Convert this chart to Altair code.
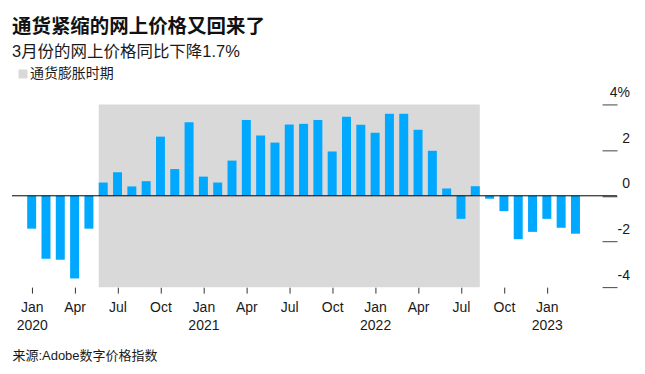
import json
import altair as alt
import pandas as pd

TITLE = "通货紧缩的网上价格又回来了"
SUBTITLE = "3月份的网上价格同比下降1.7%"
SOURCE = "来源:Adobe数字价格指数"
SHADE_LABEL = "通货膨胀时期"

MONTHS = [
    "2020-01", "2020-02", "2020-03", "2020-04", "2020-05", "2020-06",
    "2020-07", "2020-08", "2020-09", "2020-10", "2020-11", "2020-12",
    "2021-01", "2021-02", "2021-03", "2021-04", "2021-05", "2021-06",
    "2021-07", "2021-08", "2021-09", "2021-10", "2021-11", "2021-12",
    "2022-01", "2022-02", "2022-03", "2022-04", "2022-05", "2022-06",
    "2022-07", "2022-08", "2022-09", "2022-10", "2022-11", "2022-12",
    "2023-01", "2023-02", "2023-03",
]
VALUES = [
    -1.44, -2.76, -2.80, -3.62, -1.44, 0.58,
    1.03, 0.41, 0.64, 2.59, 1.17, 3.22,
    0.84, 0.58, 1.54, 3.32, 2.64, 2.33,
    3.12, 3.15, 3.32, 1.94, 3.46, 3.11,
    2.76, 3.59, 3.59, 2.89, 1.97, 0.32,
    -1.01, 0.42, -0.13, -0.67, -1.90, -1.58,
    -1.01, -1.40, -1.66,
]
SHADE_START = "2020-06"
SHADE_END = "2022-08"

X_TICK_MONTHS = ["2020-01", "2020-04", "2020-07", "2020-10",
                 "2021-01", "2021-04", "2021-07", "2021-10",
                 "2022-01", "2022-04", "2022-07", "2022-10",
                 "2023-01"]
X_TICK_LABELS = [["Jan", "2020"], "Apr", "Jul", "Oct",
                 ["Jan", "2021"], "Apr", "Jul", "Oct",
                 ["Jan", "2022"], "Apr", "Jul", "Oct",
                 ["Jan", "2023"]]
Y_TICKS = [-4, -2, 0, 2, 4]
Y_TICK_LABELS = ["-4", "-2", "0", "2", "4%"]

BLUE = "#00A9FF"
GRAY = "#D9D9D9"
FONT = "Liberation Sans, Noto Sans CJK SC"
TEXT = "#1a1a1a"

idx = {m: i for i, m in enumerate(MONTHS)}
bars = pd.DataFrame({"i": list(range(len(MONTHS))), "month": MONTHS, "value": VALUES})
shade = pd.DataFrame({"start": [idx[SHADE_START]], "end": [idx[SHADE_END]],
                      "label": [SHADE_LABEL]})
zero_df = pd.DataFrame({"z": [0]})

x_expr = " : ".join(
    f"datum.value == {idx[m]} ? {json.dumps(l)}" for m, l in zip(X_TICK_MONTHS, X_TICK_LABELS)
) + " : ''"
y_expr = " : ".join(
    f"datum.value == {v} ? {json.dumps(l if l.endswith('%') else l + chr(160) * 3)}"
    for v, l in zip(Y_TICKS, Y_TICK_LABELS)
) + " : ''"

x_scale = alt.Scale(domain=[-1.375, 40.905], nice=False, zero=False, padding=0)
y_scale = alt.Scale(domain=[-4, 4], nice=False)

x_axis = alt.Axis(
    values=[idx[m] for m in X_TICK_MONTHS], labelExpr=x_expr,
    title=SOURCE, titleX=0, titleY=72, titleAlign="left", titleAnchor="start",
    titleBaseline="alphabetic", titleFontSize=13, titleFontWeight="normal",
    titleFont=FONT, titleColor=TEXT,
    domain=False, grid=False, ticks=True, tickSize=6, tickColor="#333",
    labelFontSize=14, labelFont=FONT, labelColor=TEXT, labelPadding=7,
    labelLineHeight=18, labelBaseline="top", labelFlush=False,
    labelOverlap=False, labelAngle=0,
)
y_axis = alt.Axis(
    orient="right", values=Y_TICKS, labelExpr=y_expr, offset=-15, tickSize=15,
    tickColor="#444", domain=False, grid=False, labelAlign="right",
    labelPadding=12.5, labelBaseline="alphabetic", labelOffset=-8,
    labelFontSize=14, labelColor=TEXT, labelFont=FONT, title=None,
)

shade_layer = alt.Chart(shade).mark_rect(xOffset=-4.5, x2Offset=4.5).encode(
    x=alt.X("start:Q", scale=x_scale, axis=x_axis),
    x2="end:Q",
    y=alt.value(0),
    y2=alt.value("height"),
    color=alt.Color("label:N", scale=alt.Scale(range=[GRAY]), legend=alt.Legend(
        orient="none", legendX=4, legendY=-37.5, title=None, symbolType="square",
        symbolSize=81, symbolStrokeWidth=0, labelFontSize=14, labelFont=FONT,
        labelColor=TEXT, labelOffset=0, padding=0,
    )),
)

bars_layer = alt.Chart(bars).mark_bar(width=9, color=BLUE).encode(
    x=alt.X("i:Q", scale=x_scale, axis=x_axis),
    y=alt.Y("value:Q", scale=y_scale, axis=y_axis),
)

zero = alt.Chart(zero_df).mark_rule(color="black", strokeWidth=1).encode(
    y=alt.Y("z:Q", scale=y_scale)
)

chart = alt.layer(shade_layer, bars_layer, zero).properties(
    width=606, height=183,
    title=alt.Title(
        text=TITLE, subtitle=SUBTITLE, anchor="start", frame="group",
        font=FONT, fontSize=19.5, fontWeight="bold", color="#111",
        subtitleFont=FONT, subtitleFontSize=16.5, subtitleColor=TEXT,
        subtitlePadding=6, offset=6,
    ),
    padding={"left": 4, "top": 96.3, "right": 20, "bottom": 80},
    autosize=alt.AutoSizeParams(type="none"),
).configure_view(stroke=None)

chart.save("out.html", embed_options={"renderer": "svg", "actions": False})
